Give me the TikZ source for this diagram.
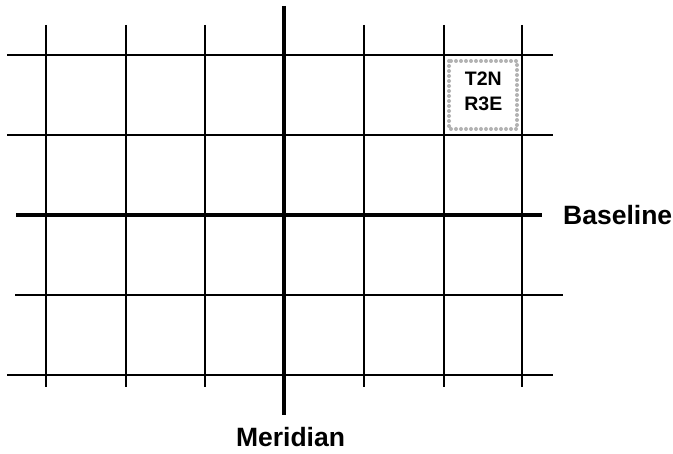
\documentclass[tikz,border=0pt]{standalone}
\usepackage{fontspec}
\setmainfont{Liberation Sans}
\begin{document}
\begin{tikzpicture}[x=1pt,y=-1pt,
  gridline/.style={black, line width=1.4pt},
  axisline/.style={black, line width=4.5pt},
  biglabel/.style={inner sep=0pt, font=\fontsize{26.5}{30}\selectfont\bfseries},
  smalllabel/.style={inner sep=0pt, font=\fontsize{19.5}{22}\selectfont\bfseries},
  dotbox/.style={draw=gray!60, line width=4pt, line cap=round, dash pattern=on 0pt off 5pt}]
\useasboundingbox (0,0) rectangle (673,454);
\fill[white] (0,0) rectangle (673,454);
% shaded township
\draw[dotbox] (449,61) rectangle (517,129);
% vertical grid lines
\foreach \i/\x in {1/46,2/126,3/205,5/364,6/444,7/522}{
  \coordinate (vt\i) at (\x,25);
  \coordinate (vb\i) at (\x,387);
  \draw[gridline] (vt\i) -- (vb\i);
}
% horizontal grid lines
\coordinate (hl1) at (7,55);   \coordinate (hr1) at (553,55);
\coordinate (hl2) at (7,135);  \coordinate (hr2) at (553,135);
\coordinate (hl4) at (15,295); \coordinate (hr4) at (563,295);
\coordinate (hl5) at (7,375);  \coordinate (hr5) at (553,375);
\foreach \j in {1,2,4,5}{\draw[gridline] (hl\j) -- (hr\j);}
% axes
\coordinate (bl) at (16,215);  \coordinate (br) at (542,215);
\coordinate (mt) at (284,6);   \coordinate (mb) at (284,415);
\draw[axisline] (bl) -- (br);
\draw[axisline] (mt) -- (mb);
% labels
\node[biglabel, anchor=base west] (baseline) at (563,225) {Baseline};
\node[biglabel, anchor=base] (meridian) at (290.5,447) {Meridian};
\node[smalllabel, anchor=base] (t2n) at (483.3,86) {T2N};
\node[smalllabel, anchor=base] (r3e) at (483.3,111) {R3E};
\end{tikzpicture}
\end{document}
